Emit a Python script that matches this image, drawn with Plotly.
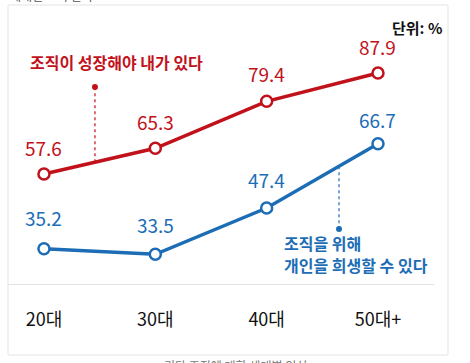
import plotly.graph_objects as go

categories = ["20대", "30대", "40대", "50대+"]
grow_vals = [57.6, 65.3, 79.4, 87.9]
sacrifice_vals = [35.2, 33.5, 47.4, 66.7]
grow_name = "조직이 성장해야 내가 있다"
sacrifice_name_lines = ["조직을 위해", "개인을 희생할 수 있다"]
unit_label = "단위: %"
caption = "기다 조직에 대한 세대별 인식"
top_fragment = "세대별 조직 인식"

# label offsets (pixels above each point) - styling only
grow_label_shift = [27, 27, 28, 27]
sacrifice_label_shift = [31, 30, 29, 24]

RED = "#c1121c"
BLUE = "#1c6db5"
FONT = "Noto Sans CJK KR"

xs = list(range(len(categories)))

fig = go.Figure()
for vals, color in ((grow_vals, RED), (sacrifice_vals, BLUE)):
    fig.add_trace(go.Scatter(
        x=xs, y=vals, mode="lines+markers",
        line=dict(color=color, width=3.5),
        marker=dict(size=11, color="white", line=dict(color=color, width=2.5)),
        cliponaxis=False, hoverinfo="skip"))

for vals, shifts, color in ((grow_vals, grow_label_shift, RED),
                            (sacrifice_vals, sacrifice_label_shift, BLUE)):
    for x, v, s in zip(xs, vals, shifts):
        fig.add_annotation(x=x, y=v, xref="x", yref="y", text=f"{v}", showarrow=False,
                           yshift=s, xanchor="center", yanchor="middle",
                           font=dict(color=color, size=19, family=FONT))

# leader lines
gx = 0.458
gy = grow_vals[0] + gx * (grow_vals[1] - grow_vals[0])
sx = 2.65
sy = sacrifice_vals[2] + (sx - 2) * (sacrifice_vals[3] - sacrifice_vals[2])
fig.add_shape(type="line", x0=gx, x1=gx, y0=gy, y1=83.7, xref="x", yref="y",
              line=dict(color=RED, width=1.2, dash="dot"))
fig.add_trace(go.Scatter(x=[gx], y=[83.7], mode="markers",
                         marker=dict(size=6, color=RED), hoverinfo="skip"))
fig.add_shape(type="line", x0=sx, x1=sx, y0=sy, y1=41.1, xref="x", yref="y",
              line=dict(color=BLUE, width=1.2, dash="dot"))
fig.add_trace(go.Scatter(x=[sx], y=[41.1], mode="markers",
                         marker=dict(size=6, color=BLUE), hoverinfo="skip"))

fig.add_annotation(x=-0.144, y=91.2, xref="x", yref="y", text=f"<b>{grow_name}</b>",
                   showarrow=False, xanchor="left", yanchor="middle",
                   font=dict(color=RED, size=16, family=FONT))
for line_text, ly in zip(sacrifice_name_lines, (37.05, 30.3)):
    fig.add_annotation(x=2.149, y=ly, xref="x", yref="y", text=f"<b>{line_text}</b>",
                       showarrow=False, xanchor="left", yanchor="middle", align="left",
                       borderpad=0,
                       font=dict(color=BLUE, size=16, family=FONT))
fig.add_annotation(x=1.0235, y=1.053, xref="paper", yref="paper", text=f"<b>{unit_label}</b>",
                   showarrow=False, xanchor="right", yanchor="middle",
                   font=dict(color="#111111", size=15, family=FONT))
fig.add_annotation(x=0.533, y=-0.336, xref="paper", yref="paper", text=caption,
                   showarrow=False, xanchor="center", yanchor="middle",
                   font=dict(color="#777777", size=12, family=FONT))
fig.add_annotation(x=0.0, y=1.14, xref="paper", yref="paper", text=top_fragment,
                   showarrow=False, xanchor="left", yanchor="bottom",
                   font=dict(color="#555555", size=12, family=FONT))

# frame
fig.add_shape(type="rect", xref="paper", yref="paper", x0=0, x1=1.0329, y0=-0.291, y1=1.1434,
              line=dict(color="#e3e3e3", width=1), layer="below")

fig.update_layout(
    width=470, height=363,
    margin=dict(l=8, r=36, t=40, b=79),
    paper_bgcolor="white", plot_bgcolor="white",
    showlegend=False,
    font=dict(family=FONT),
    xaxis=dict(range=[-0.323, 3.503], tickvals=xs, ticktext=categories,
               showgrid=False, zeroline=False, showline=True, linecolor="#e3e3e3",
               linewidth=1, ticks="", ticklabelstandoff=19,
               tickfont=dict(size=18, color="#111111", family=FONT)),
    yaxis=dict(range=[24.6, 97.8], visible=False),
)

fig.write_html("out.html", config={"displayModeBar": False},
               post_script="document.body.style.margin='0';")
